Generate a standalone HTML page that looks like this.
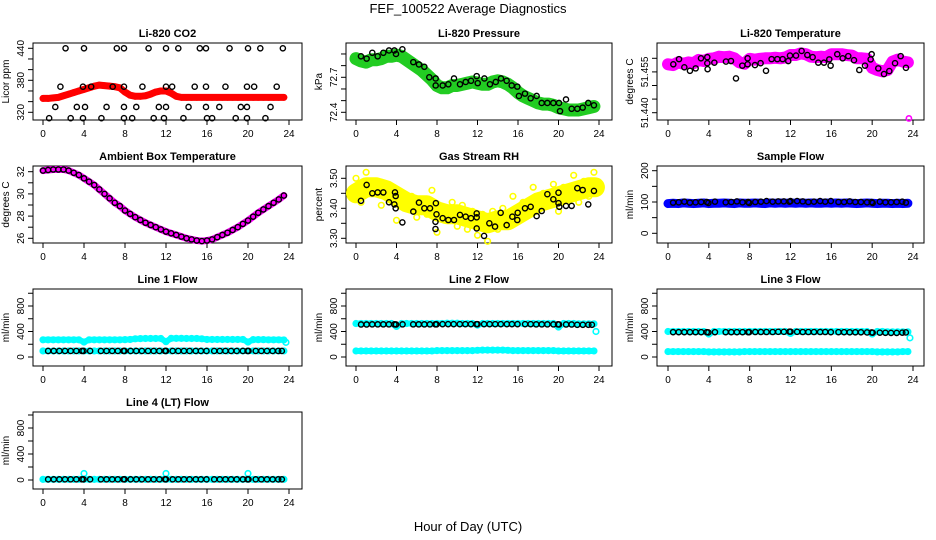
<!DOCTYPE html>
<html><head><meta charset="utf-8">
<style>
html,body{margin:0;padding:0;background:#fff;}
svg{display:block;font-family:"Liberation Sans",sans-serif;}
.t{font-size:11px;font-weight:bold;text-anchor:middle;}
.tk{font-size:10px;text-anchor:middle;}
</style></head>
<body>
<svg id="chart" width="936" height="540" viewBox="0 0 936 540" xmlns="http://www.w3.org/2000/svg">
<rect width="936" height="540" fill="#fff"/>
<text x="468" y="13" font-size="13" text-anchor="middle">FEF_100522  Average Diagnostics</text>
<text x="468" y="531" font-size="13" text-anchor="middle">Hour of Day (UTC)</text>
</svg>
<script>
const hh = [0,0.5,1,1.5,2,2.5,3,3.5,4,4.5,5,5.5,6,6.5,7,7.5,8,8.5,9,9.5,10,10.5,11,11.5,12,12.5,13,13.5,14,14.5,15,15.5,16,16.5,17,17.5,18,18.5,19,19.5,20,20.5,21,21.5,22,22.5,23,23.5];
const xTicks = [0,4,8,12,16,20,24];

const co2Red = [346,346,347,348,351,354,357,360, 363,366,369,371,370,369,368,366, 358,352,350,350,351,354,358,360, 360,356,350,348,348,348,348,348, 348,348,348,348,348,348,348,348, 348,348,348,348,348,348,348,348];
const co2Hours = [2.2,4.0,7.2,7.9,10.3,12.0,13.2,15.3,15.9,18.2,20.0,21.2,23.4, 1.7,3.9,4.7,6.8,7.9,9.7,12.0,12.6,14.8,15.9,17.8,19.9,20.6,22.8, 1.2,3.3,4.1,6.2,7.9,9.1,11.3,12.0,14.2,15.9,17.2,19.3,19.9,22.2, 0.6,2.7,3.9,5.7,7.9,8.7,10.8,11.8,13.7,16.0,16.5,18.8,19.9,21.7];
const co2Vals = [440,440,440,440,440,440,440,440,440,440,440,440,440, 368,368,368,368,368,368,368,368,368,368,368,368,368,368, 330,330,330,330,330,330,330,330,330,330,330,330,330,330, 309,309,309,309,309,309,309,309,309,309,309,309,309,309];

const presGreen = [72.86,72.84,72.83,72.85,72.85,72.86,72.88,72.88, 72.89,72.88,72.85,72.82,72.79,72.76,72.72,72.68, 72.63,72.61,72.61,72.63,72.63,72.64,72.65,72.66, 72.65,72.64,72.64,72.66,72.67,72.66,72.64,72.61, 72.57,72.54,72.52,72.50,72.48,72.47,72.47,72.46, 72.44,72.43,72.42,72.42,72.42,72.43,72.44,72.45];
const presHours = [0.49,1.05,1.61,2.14,2.70,3.26,3.79,3.95,4.58,5.66,6.22,6.75,7.24,7.87,7.87,8.56,9.12,9.68,10.27,10.83,11.36,11.92,12.02,12.68,13.23,13.80,14.32,14.88,15.38,15.93,16.09,16.69,17.25,17.84,18.34,18.90,19.49,20.05,20.15,20.74,21.30,21.86,22.39,22.94,23.50];
const presVals = [72.88,72.86,72.91,72.88,72.91,72.93,72.93,72.90,72.94,72.83,72.81,72.79,72.70,72.69,72.63,72.63,72.64,72.69,72.64,72.66,72.67,72.71,72.65,72.69,72.64,72.66,72.69,72.67,72.63,72.62,72.54,72.56,72.52,72.54,72.48,72.48,72.48,72.48,72.41,72.51,72.43,72.43,72.44,72.48,72.46];

const tempMag = [51.4578,51.4575,51.4585,51.4580,51.4585,51.4582,51.4594,51.4590, 51.4598,51.4600,51.4606,51.4604,51.4606,51.4600,51.4585,51.4580, 51.4598,51.4595,51.4598,51.4600,51.4600,51.4602,51.4600,51.4603, 51.4612,51.4612,51.4618,51.4615,51.4606,51.4604,51.4606,51.4604, 51.4615,51.4615,51.4615,51.4612,51.4610,51.4600,51.4600,51.4598, 51.4565,51.4557,51.4552,51.4557,51.4588,51.4595,51.4588,51.4585];
const tempOutHours = [23.6];
const tempOutVals = [51.4379];
const tempHours = [0.52,1.08,1.60,2.15,2.71,3.23,3.85,3.85,3.88,4.54,5.68,6.17,6.66,7.28,7.80,7.80,8.52,9.07,9.60,10.15,10.71,11.23,11.78,11.95,12.54,13.09,13.65,14.17,14.72,15.28,15.80,15.93,16.58,17.11,17.66,18.22,18.74,19.30,19.85,19.95,20.60,21.16,21.68,22.24,22.79,23.31];
const tempVals = [51.4578,51.4597,51.4567,51.4554,51.4563,51.4600,51.4582,51.4604,51.4560,51.4584,51.4588,51.4590,51.4526,51.4573,51.4578,51.4600,51.4575,51.4582,51.4554,51.4597,51.4597,51.4597,51.4590,51.4610,51.4610,51.4627,51.4612,51.4604,51.4584,51.4584,51.4596,51.4573,51.4615,51.4600,51.4608,51.4593,51.4557,51.4573,51.4596,51.4615,51.4563,51.4542,51.4553,51.4582,51.4608,51.4565];

const ambient = [32.1,32.15,32.2,32.2,32.2,32.1,31.9,31.7, 31.4,31.1,30.8,30.4,30.0,29.6,29.2,28.9, 28.5,28.2,27.9,27.65,27.4,27.2,27.0,26.8, 26.6,26.45,26.3,26.15,26.0,25.9,25.8,25.75, 25.8,25.9,26.1,26.3,26.5,26.75,27.0,27.3, 27.6,27.95,28.3,28.6,28.9,29.2,29.5,29.85];

const rhTrendHours = [0,1,2,3,4,5,6,7,8,9,10,11,12,13,14,15,16,17,18,19,20,21,22,23,23.6];
const rhTrend = [3.45,3.47,3.47,3.46,3.44,3.42,3.41,3.41,3.39,3.38,3.38,3.37,3.36,3.35,3.36,3.36,3.38,3.40,3.42,3.43,3.44,3.45,3.46,3.47,3.47];
const rhScatter = [3.50,3.42,3.52,3.46,3.49,3.41,3.48,3.44, 3.36,3.45,3.40,3.44,3.37,3.43,3.38,3.46, 3.32,3.40,3.36,3.42,3.34,3.41,3.33,3.39, 3.31,3.38,3.29,3.39,3.33,3.40,3.35,3.44, 3.36,3.42,3.39,3.47,3.40,3.45,3.41,3.48, 3.39,3.47,3.43,3.51,3.42,3.49,3.44,3.52];
const rhHours = [0.49,1.05,1.61,2.14,2.70,3.26,3.79,3.85,3.92,3.92,4.58,5.66,6.22,6.75,7.31,7.89,7.95,7.85,7.85,8.56,9.12,9.68,10.27,10.83,11.36,11.92,11.92,11.92,12.65,13.17,13.73,14.29,14.88,15.44,15.93,15.97,16.69,17.25,17.84,18.34,18.90,19.49,20.00,20.00,20.08,20.74,21.30,21.86,22.39,22.94,23.50];
const rhVals = [3.425,3.478,3.450,3.453,3.453,3.420,3.413,3.453,3.441,3.400,3.353,3.389,3.419,3.400,3.400,3.417,3.380,3.355,3.331,3.367,3.361,3.361,3.378,3.372,3.367,3.383,3.370,3.333,3.308,3.350,3.339,3.385,3.344,3.372,3.361,3.385,3.400,3.405,3.374,3.391,3.447,3.430,3.452,3.417,3.405,3.408,3.408,3.467,3.461,3.413,3.458];

const sampleBlue = [95,96,95,97,96,95,96,97, 95,96,96,97,96,95,97,96, 96,97,96,95,97,96,97,96, 97,96,97,96,97,96,96,97, 96,97,96,97,96,95,96,97, 96,95,96,96,95,96,95,96];
const flowHours = [0.5,1.05,1.6,2.15,2.7,3.25,3.8,3.95,4.6,5.65,6.2,6.75,7.3,7.85,7.95,8.55,9.1,9.65,10.25,10.8,11.35,11.9,12.0,12.65,13.2,13.75,14.3,14.9,15.4,15.95,16.7,17.25,17.8,18.35,18.9,19.5,19.95,20.05,20.75,21.3,21.85,22.4,22.95,23.3];
const sampleBlack = [98,99,101,98,99,100,100,97,101,99,100,102,99,100,97,100,101,103,101,102,102,101,103,103,102,100,101,103,101,103,100,100,102,100,100,99,100,97,101,99,99,100,101,98];

const line1Upper = [270,270,270,270,270,270,270,270, 235,270,270,270,270,270,270,270, 272,275,285,288,290,290,290,290, 240,292,292,292,290,290,290,285, 275,275,275,275,275,275,275,275, 235,272,272,272,270,270,270,268];
const line1Lower = [95,95,95,95,95,95,95,95, 95,95,95,95,95,95,95,95, 95,95,95,95,95,95,95,95, 95,95,95,95,95,95,95,95, 95,95,95,95,95,95,95,95, 95,95,95,95,95,95,95,95];
const line1Black = [95,95,95,95,95,95,95,95,95,95,95,95,95,95,95,95,95,95,95,95,95,95,95,95,95,95,95,95,95,95,95,95,95,95,95,95,95,95,95,95,95,95,95,95];
const line2Upper = [525,525,525,525,525,525,525,525, 480,525,525,525,525,525,525,525, 525,525,530,530,530,525,525,525, 500,525,525,525,525,525,525,525, 525,525,525,525,525,525,525,525, 470,525,525,525,520,520,520,520];
const line2Lower = [95,95,95,95,95,95,95,95, 95,95,95,95,95,95,95,95, 100,100,100,100,100,100,100,100, 105,108,108,108,108,108,105,100, 100,100,100,100,100,100,100,100, 95,95,95,95,95,95,95,95];
const line2Black = [510,510,512,512,512,512,512,510,512,512,512,512,512,512,512,515,515,515,515,515,515,515,515,515,515,515,515,515,515,515,515,515,512,512,512,512,512,510,510,510,505,505,505,505];
const line3Upper = [400,400,400,400,400,400,400,400, 360,400,400,400,400,400,400,400, 400,400,400,400,400,400,400,400, 370,400,400,400,400,400,400,400, 400,400,400,400,400,400,400,400, 360,400,400,395,395,395,395,395];
const line3Lower = [85,85,85,85,85,85,85,85, 80,80,80,80,80,80,80,85, 85,85,85,85,85,85,85,85, 85,85,85,85,85,85,85,85, 85,85,85,85,85,85,85,85, 85,80,80,80,80,80,85,85];
const line3Black = [390,390,390,390,390,390,390,385,390,390,390,390,390,390,390,392,392,392,392,395,395,398,398,395,392,392,392,392,392,390,390,390,388,388,388,385,385,382,382,380,378,378,382,385];
const line4Cyan = [10,10,10,10,10,10,10,10, 10,10,10,10,10,10,10,10, 10,10,10,10,10,10,10,10, 10,10,10,10,10,10,10,10, 10,10,10,10,10,10,10,10, 10,10,10,10,10,10,10,10];
const line4SpikeHours = [4,12,20];
const line4SpikeVals = [100,100,100];
const line4Black = [10,10,10,10,10,10,10,10,10,10,10,10,10,10,10,10,10,10,10,10,10,10,10,10,10,10,10,10,10,10,10,10,10,10,10,10,10,10,10,10,10,10,10,10];
const tailHours = [23.7];
const line2Tail = [400];
const line3Tail = [300];
const line1Tail = [230];

const NS = 'http://www.w3.org/2000/svg';
const svg = document.getElementById('chart');
const colLeft = [33,346,657], colRight = [302,612,924];
const colX0 = [43,356,668], colX24 = [289,599,913];
const rowTop = [43,166,289,412], boxH = 77;

function el(tag, attrs, parent){
  const e = document.createElementNS(NS, tag);
  for (const k in attrs) e.setAttribute(k, attrs[k]);
  (parent||svg).appendChild(e);
  return e;
}

function makePanel(name, title, ylab, col, row, vA, yA, vB, yB, yTicks, yLabels, yLabelText){
  const g = el('g', {});
  
  
  const L = colLeft[col], R = colRight[col], T = rowTop[row], B = T + boxH;
  const xs = h => colX0[col] + (colX24[col]-colX0[col]) * h / 24;
  const ys = v => yA + (v - vA) * (yB - yA) / (vB - vA);
  const box = el('rect', {x:L, y:T, width:R-L, height:boxH, fill:'none', stroke:'#000', 'stroke-width':1}, g);
  
  
  const tt = el('text', {x:(L+R)/2, y:T-6, class:'t'}, g);
  
  
  tt.textContent = title;
  // x axis
  const xa = el('g', {}, g);
  
  
  el('line', {x1:xs(0), x2:xs(24), y1:B, y2:B, stroke:'#000'}, xa);
  xTicks.forEach(t => {
    el('line', {x1:xs(t), x2:xs(t), y1:B, y2:B+5, stroke:'#000'}, xa);
    const lb = el('text', {x:xs(t), y:B+17, class:'tk'}, xa);
    
    
    lb.textContent = t;
  });
  // y axis
  const ya = el('g', {}, g);
  
  
  el('line', {x1:L, x2:L, y1:ys(yTicks[0]), y2:ys(yTicks[yTicks.length-1]), stroke:'#000'}, ya);
  yTicks.forEach(t => el('line', {x1:L-5, x2:L, y1:ys(t), y2:ys(t), stroke:'#000'}, ya));
  yLabels.forEach((t,i) => {
    const X = L-9, Y = ys(t);
    const lb = el('text', {x:X, y:Y, class:'tk', transform:`rotate(-90 ${X} ${Y})`}, ya);
    
    
    lb.textContent = yLabelText[i];
  });
  const yx = L - 24, yy = (T+B)/2;
  const yl = el('text', {x:yx, y:yy, class:'tk', 'font-size':'11', transform:`rotate(-90 ${yx} ${yy})`}, g);
  
  
  yl.textContent = ylab;
  return {g, xs, ys};
}

function band(p, hours, vals, color, width, r, name){
  const s = el('g', {}, p.g);
  
  
  if (width > 0) {
    el('polyline', {points: hours.map((h,i)=>p.xs(h)+','+p.ys(vals[i])).join(' '), fill:'none', stroke:color, 'stroke-width':width, 'stroke-linejoin':'round', 'stroke-linecap':'round'}, s);
  }
  hours.forEach((h,i) => el('circle', {cx:p.xs(h), cy:p.ys(vals[i]), r:r, fill:'none', stroke:color, 'stroke-width':1.6}, s));
}
function pts(p, hours, vals, name){
  const s = el('g', {}, p.g);
  
  
  hours.forEach((h,i) => el('circle', {cx:p.xs(h), cy:p.ys(vals[i]), r:2.6, fill:'none', stroke:'#000', 'stroke-width':1.4}, s));
}

// Row 1
let p = makePanel('co2', 'Li-820 CO2', 'Licor ppm', 0, 0, 320, 112.3, 440, 48.3, [320,340,360,380,400,420,440], [320,380,440], ['320','380','440']);
band(p, hh, co2Red, '#ff0000', 7, 2.6, 'co2-red-series');
pts(p, co2Hours, co2Vals, 'co2-black-points');

p = makePanel('pressure', 'Li-820 Pressure', 'kPa', 1, 0, 72.4, 112.3, 72.7, 77.3, [72.4,72.5,72.6,72.7,72.8,72.9], [72.4,72.7], ['72.4','72.7']);
band(p, hh, presGreen, '#22cc22', 13, 3, 'pressure-green-series');
pts(p, presHours, presVals, 'pressure-black-points');

p = makePanel('li820-temp', 'Li-820 Temperature', 'degrees C', 2, 0, 51.440, 112.7, 51.460, 58.3, [51.440,51.445,51.450,51.455,51.460], [51.440,51.455], ['51.440','51.455']);
band(p, hh, tempMag, '#ff00ff', 12, 3, 'temp-magenta-series');
band(p, tempOutHours, tempOutVals, '#ff00ff', 0, 2.6, 'temp-magenta-outlier');
pts(p, tempHours, tempVals, 'temp-black-points');

// Row 2
p = makePanel('ambient', 'Ambient Box Temperature', 'degrees C', 0, 1, 26, 238.3, 32, 171.7, [26,27,28,29,30,31,32], [26,28,30,32], ['26','28','30','32']);
band(p, hh, ambient, '#ff00ff', 7, 2.6, 'ambient-magenta-series');
pts(p, hh, ambient, 'ambient-black-points');

p = makePanel('rh', 'Gas Stream RH', 'percent', 1, 1, 3.30, 238.3, 3.50, 178.3, [3.30,3.35,3.40,3.45,3.50], [3.30,3.40,3.50], ['3.30','3.40','3.50']);
band(p, rhTrendHours, rhTrend, '#ffff00', 20, 2.6, 'rh-yellow-band');
band(p, hh, rhScatter, '#ffff00', 0, 2.8, 'rh-yellow-points');
pts(p, rhHours, rhVals, 'rh-black-points');

p = makePanel('sample-flow', 'Sample Flow', 'ml/min', 2, 1, 0, 233.3, 200, 170.7, [0,50,100,150,200], [0,100,200], ['0','100','200']);
band(p, hh, sampleBlue, '#0000ff', 9, 3, 'sample-blue-series');
pts(p, flowHours, sampleBlack, 'sample-black-points');

// Row 3
const fTicks = [0,200,400,600,800,1000];
p = makePanel('line1', 'Line 1 Flow', 'ml/min', 0, 2, 0, 357, 800, 306, fTicks, [0,400,800], ['0','400','800']);
band(p, hh, line1Upper, '#00ffff', 6, 2.8, 'line1-cyan-upper');
band(p, tailHours, line1Tail, '#00ffff', 0, 2.8, 'line1-cyan-tail');
band(p, hh, line1Lower, '#00ffff', 6, 2.8, 'line1-cyan-lower');
pts(p, flowHours, line1Black, 'line1-black-points');

p = makePanel('line2', 'Line 2 Flow', 'ml/min', 1, 2, 0, 357, 800, 306, fTicks, [0,400,800], ['0','400','800']);
band(p, hh, line2Upper, '#00ffff', 6, 2.8, 'line2-cyan-upper');
band(p, tailHours, line2Tail, '#00ffff', 0, 2.8, 'line2-cyan-tail');
band(p, hh, line2Lower, '#00ffff', 6, 2.8, 'line2-cyan-lower');
pts(p, flowHours, line2Black, 'line2-black-points');

p = makePanel('line3', 'Line 3 Flow', 'ml/min', 2, 2, 0, 357, 800, 306, fTicks, [0,400,800], ['0','400','800']);
band(p, hh, line3Upper, '#00ffff', 6, 2.8, 'line3-cyan-upper');
band(p, tailHours, line3Tail, '#00ffff', 0, 2.8, 'line3-cyan-tail');
band(p, hh, line3Lower, '#00ffff', 6, 2.8, 'line3-cyan-lower');
pts(p, flowHours, line3Black, 'line3-black-points');

// Row 4
p = makePanel('line4', 'Line 4 (LT) Flow', 'ml/min', 0, 3, 0, 480, 800, 428, fTicks, [0,400,800], ['0','400','800']);
band(p, hh, line4Cyan, '#00ffff', 6, 2.8, 'line4-cyan-series');
band(p, line4SpikeHours, line4SpikeVals, '#00ffff', 0, 2.8, 'line4-cyan-spikes');
pts(p, flowHours, line4Black, 'line4-black-points');
</script>
</body></html>
